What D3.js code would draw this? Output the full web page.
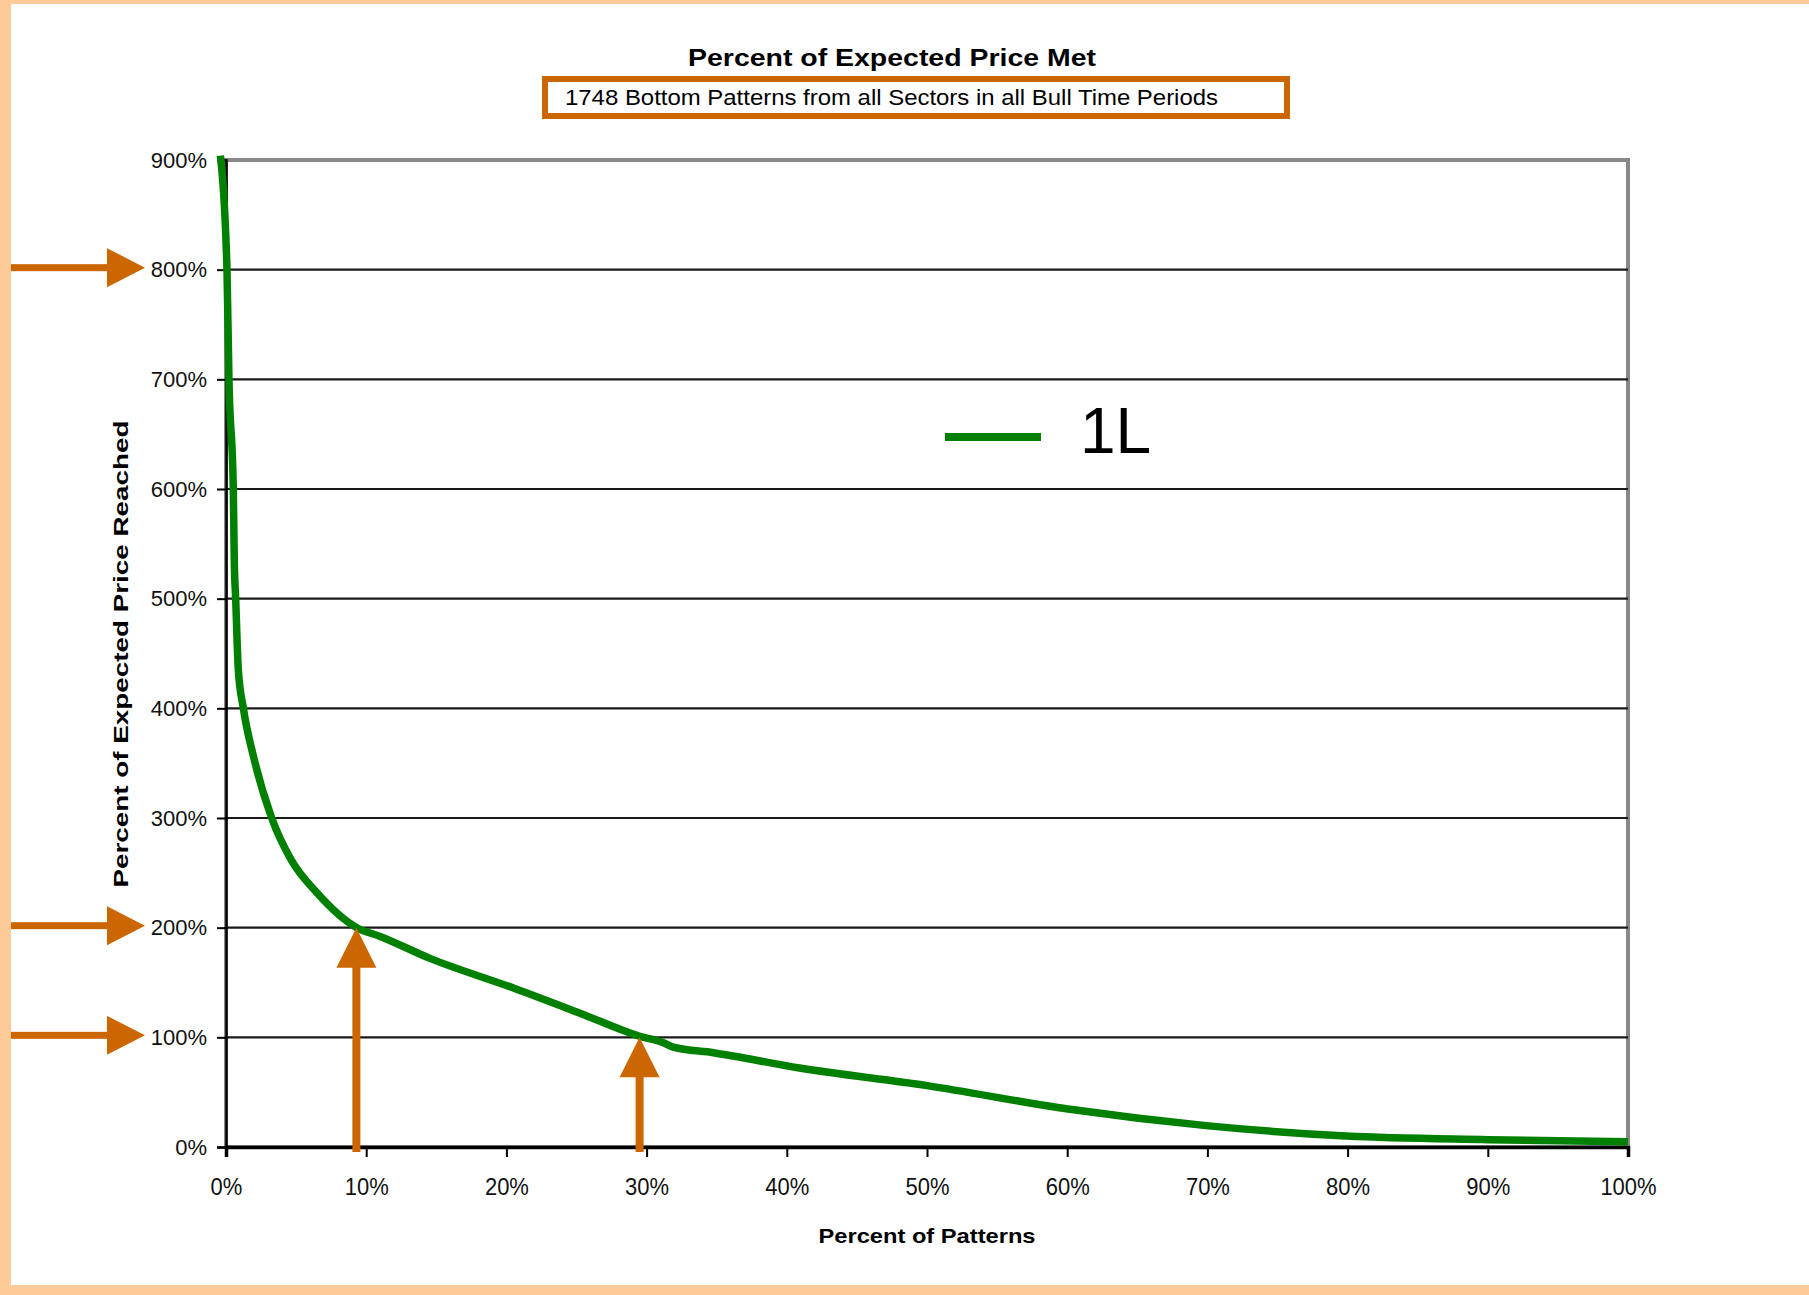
<!DOCTYPE html>
<html>
<head>
<meta charset="utf-8">
<script src="https://cdn.jsdelivr.net/npm/d3@7"></script>
<style>
  body { margin: 0; background: #fecb98; }
  svg { display: block; font-family: "Liberation Sans", Arial, sans-serif; }
</style>
</head>
<body>
<svg id="chart"></svg>
<script>
// percent of patterns (x) vs percent of expected price reached (y)
const pctPatterns = [-0.4, 0.07, 0.21, 0.52, 0.59, 0.69, 0.88, 1.24, 2.02, 3.26, 4.64, 6.47, 9.32, 11.0, 14.55, 20.5, 25.25, 29.5, 31.2, 31.9, 34.76, 40.9, 50, 60.06, 69.9, 79.9, 90, 100];
const pctReached  = [904, 800, 700, 600, 535, 500, 435, 400, 353, 300, 262, 232, 200, 192, 172, 145, 122, 101, 95, 91, 86, 72, 56, 34.6, 19.5, 10, 6.7, 4.8];
const xTicks = [0, 10, 20, 30, 40, 50, 60, 70, 80, 90, 100];
const yTicks = [0, 100, 200, 300, 400, 500, 600, 700, 800, 900];
// annotation arrows
const sideArrows = [800, 200, 100];
const upArrows = [{ x: 9.3, y: 200 }, { x: 29.5, y: 100 }];
const seriesName = '1L';

const W = 1809, H = 1295;
const margin = { top: 160, right: 181, bottom: 148, left: 226 };
const width = W - margin.left - margin.right;
const height = H - margin.top - margin.bottom;
const orange = '#cc6600';

const svg = d3.select('#chart').attr('width', W).attr('height', H);

// white panel inside the peach frame
svg.append('rect').attr('x', 11).attr('y', 4).attr('width', W - 11).attr('height', H - 14).attr('fill', '#fff');

const x = d3.scaleLinear().domain([0, 100]).range([margin.left, margin.left + width]);
const y = d3.scaleLinear().domain([0, 900]).range([margin.top + height, margin.top]);

// titles
svg.append('text').attr('x', 892).attr('y', 66).attr('text-anchor', 'middle')
  .attr('font-size', 23).attr('font-weight', 'bold').attr('textLength', 408).attr('lengthAdjust', 'spacingAndGlyphs')
  .text('Percent of Expected Price Met');
svg.append('rect').attr('x', 545).attr('y', 79).attr('width', 742).attr('height', 37)
  .attr('fill', '#fff').attr('stroke', orange).attr('stroke-width', 6);
svg.append('text').attr('x', 565).attr('y', 105)
  .attr('font-size', 22).attr('textLength', 653).attr('lengthAdjust', 'spacingAndGlyphs')
  .text('1748 Bottom Patterns from all Sectors in all Bull Time Periods');

// plot frame (top/right grey)
svg.append('rect').attr('x', margin.left).attr('y', margin.top).attr('width', width).attr('height', height)
  .attr('fill', 'none').attr('stroke', '#888').attr('stroke-width', 4);

// gridlines
svg.append('g').selectAll('line').data(yTicks.filter(d => d > 0 && d < 900)).enter().append('line')
  .attr('x1', margin.left).attr('x2', margin.left + width)
  .attr('y1', d => y(d)).attr('y2', d => y(d))
  .attr('stroke', '#1a1a1a').attr('stroke-width', 2.2);

// axes
const yAxis = svg.append('g').attr('transform', `translate(${margin.left},0)`)
  .call(d3.axisLeft(y).tickValues(yTicks).tickFormat(d => d + '%').tickSize(9).tickPadding(10));
const xAxis = svg.append('g').attr('transform', `translate(0,${margin.top + height})`)
  .call(d3.axisBottom(x).tickValues(xTicks).tickFormat(d => d + '%').tickSize(10).tickPadding(18));
yAxis.select('.domain').attr('stroke', '#000').attr('stroke-width', 2.5);
xAxis.select('.domain').attr('stroke', '#000').attr('stroke-width', 3.5);
[yAxis, xAxis].forEach(a => {
  a.selectAll('.tick line').attr('stroke', '#000').attr('stroke-width', 2);
  a.selectAll('text').attr('font-size', 22).attr('fill', '#111')
    .attr('font-family', '"Liberation Sans", Arial, sans-serif');
});
xAxis.selectAll('text').attr('transform', 'scale(1,1.1)');

svg.append('text').attr('transform', `translate(128,${654}) rotate(-90)`).attr('text-anchor', 'middle')
  .attr('font-size', 21).attr('font-weight', 'bold').attr('textLength', 467).attr('lengthAdjust', 'spacingAndGlyphs')
  .text('Percent of Expected Price Reached');
svg.append('text').attr('x', 927).attr('y', 1243).attr('text-anchor', 'middle')
  .attr('font-size', 21).attr('font-weight', 'bold').attr('textLength', 217).attr('lengthAdjust', 'spacingAndGlyphs')
  .text('Percent of Patterns');

// series line
const pts = pctPatterns.map((p, i) => [p, pctReached[i]]);
svg.append('path').datum(pts)
  .attr('d', d3.line().x(d => x(d[0])).y(d => y(d[1])).curve(d3.curveMonotoneX))
  .attr('fill', 'none').attr('stroke', '#008000').attr('stroke-width', 7.5).attr('stroke-linejoin', 'round');

// legend
svg.append('line').attr('x1', 945).attr('x2', 1041).attr('y1', 437).attr('y2', 437)
  .attr('stroke', '#008000').attr('stroke-width', 8);
svg.append('text').attr('x', 1080).attr('y', 453).attr('font-size', 64).attr('fill', '#000').text(seriesName);

// side arrows pointing at y labels
const side = svg.append('g').selectAll('g').data(sideArrows).enter().append('g')
  .attr('transform', d => `translate(0,${y(d) - 2})`);
side.append('rect').attr('x', 11).attr('y', -3.5).attr('width', 100).attr('height', 7).attr('fill', orange);
side.append('path').attr('d', 'M107,-19.5 L145,0 L107,19.5 Z').attr('fill', orange);

// up arrows from the x axis to the curve
const up = svg.append('g').selectAll('g').data(upArrows).enter().append('g')
  .attr('transform', d => `translate(${x(d.x)},0)`);
up.append('rect').attr('x', -4).attr('y', d => y(d.y) + 38).attr('width', 8)
  .attr('height', d => y(0) + 5 - (y(d.y) + 38)).attr('fill', orange);
up.append('path').attr('d', d => `M-20,${y(d.y) + 40} L0,${y(d.y)} L20,${y(d.y) + 40} Z`).attr('fill', orange);
</script>
</body>
</html>
